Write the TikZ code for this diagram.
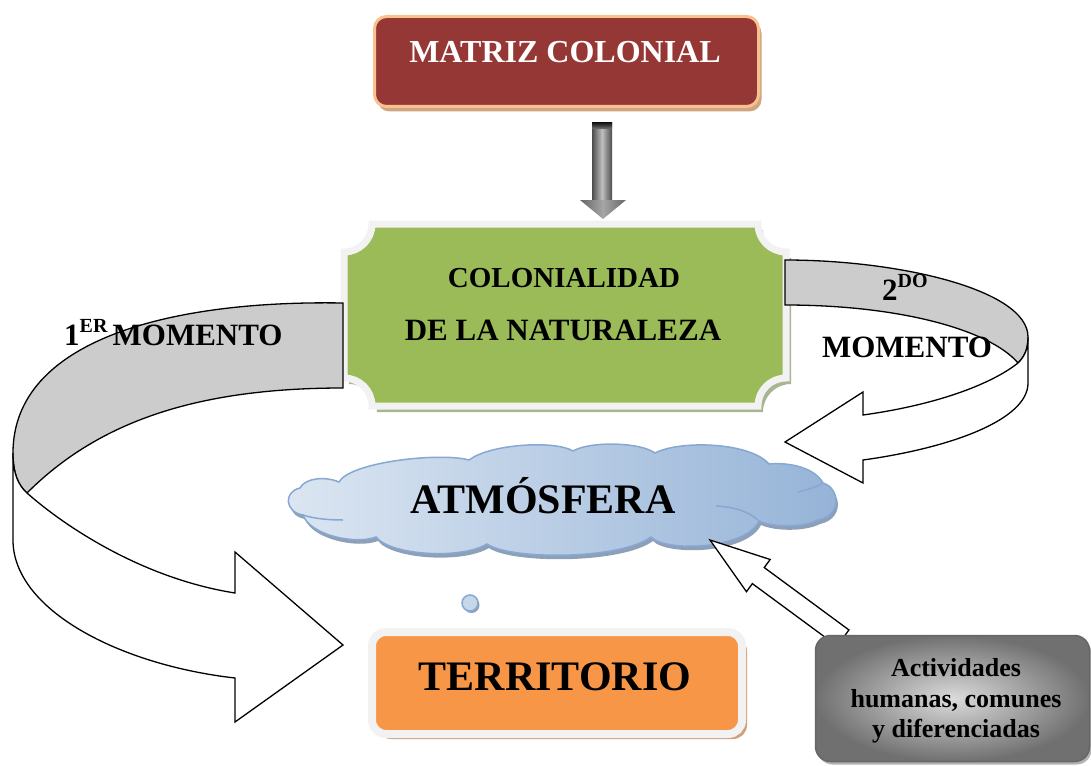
\documentclass[tikz,border=0pt]{standalone}
\usepackage{fontspec}
\setmainfont{Liberation Serif}
\usetikzlibrary{
  shadows,        % Key "drop shadow"
  calc,           % Calculations $...$
  positioning,
}
\definecolor{matrizred}{HTML}{953735}
\definecolor{matrizrim}{HTML}{FAC090}
\definecolor{matrizshadow}{HTML}{CFA582}
\definecolor{natgreen}{HTML}{9BBB59}
\definecolor{natshadow}{HTML}{A9B592}
\definecolor{paleborder}{HTML}{F2F2F2}
\definecolor{skylight}{HTML}{DCE6F2}
\definecolor{skydark}{HTML}{95B3D7}
\definecolor{skyrim}{HTML}{86A8D3}
\definecolor{skyshadow}{HTML}{8E9FB8}
\definecolor{terrorange}{HTML}{F79646}
\definecolor{terrshadow}{HTML}{D2A07A}
\definecolor{ribbongray}{HTML}{CCCCCC}
\newcommand{\sups}[1]{\raisebox{13pt}{\fontsize{20}{20}\selectfont #1}}
% Outline of the cloud
\newcommand{\cloudpath}{(300,488) .. controls (305,478) and (325,476) .. (339,482)
  .. controls (350,462) and (440,452) .. (469,460)
  .. controls (490,444) and (555,440) .. (573,451)
  .. controls (590,441) and (640,442) .. (655,453)
  .. controls (680,440) and (750,442) .. (769,464)
  .. controls (790,462) and (815,468) .. (823,483)
  .. controls (840,488) and (842,515) .. (818,520)
  .. controls (805,527) and (775,528) .. (759,521)
  .. controls (745,550) and (665,552) .. (651,537)
  .. controls (620,560) and (510,560) .. (487,544)
  .. controls (460,560) and (390,555) .. (376,537)
  .. controls (355,545) and (310,535) .. (303,515)
  .. controls (285,512) and (283,492) .. (300,488) -- cycle}
% Outline of the plaque
\newcommand{\plaquepath}{(372,224) -- (758,224) .. controls (758,239.5) and (770.5,252) .. (786,252)
  -- (786,378) .. controls (770.5,378) and (758,390.5) .. (758,406)
  -- (372,406) .. controls (372,390.5) and (359.5,378) .. (344,378)
  -- (344,252) .. controls (359.5,252) and (372,239.5) .. (372,224) -- cycle}
\tikzset{
  semithick,
  title text/.style={
    text=white,
    font=\bfseries\fontsize{32}{38}\selectfont
  },
  plaque text/.style={
    font=\bfseries\fontsize{#1}{#1}\selectfont
  },
  big text/.style={
    font=\bfseries\fontsize{42}{50}\selectfont
  },
  moment text/.style={
    font=\bfseries\fontsize{31}{37}\selectfont
  },
  note text/.style={
    font=\bfseries\fontsize{26}{30.5}\selectfont,
    align=center
  },
  matriz box/.style={
    rectangle,
    rounded corners=12pt,
    minimum width=384pt,
    minimum height=90pt,
    fill=matrizred,
    draw=matrizrim,
    line width=3pt,
    drop shadow={shadow xshift=3pt,shadow yshift=-5pt,fill=matrizshadow,opacity=1}
  },
  terr box/.style={
    rectangle,
    rounded corners=14pt,
    minimum width=370pt,
    minimum height=102pt,
    fill=terrorange,
    draw=paleborder,
    line width=8pt,
    drop shadow={shadow xshift=5pt,shadow yshift=-5pt,fill=terrshadow,opacity=1}
  },
  note box/.style={
    rectangle,
    rounded corners=15pt,
    minimum width=274pt,
    minimum height=126pt,
    inner color=black!14,
    outer color=black!56,
    draw=black!60,
    line width=1.5pt,
    drop shadow={shadow xshift=2pt,shadow yshift=-3pt,fill=black!30,opacity=1}
  },
  sky/.style={
    left color=skylight,
    right color=skydark,
    draw=skyrim,
    line width=1.5pt
  },
  sky inner/.style={
    draw=skyrim,
    line width=1.5pt
  },
  bubble/.style={
    circle,
    minimum size=16pt,
    inner sep=0pt,
    fill=skylight!70!skydark,
    draw=skyrim,
    line width=1.5pt,
    drop shadow={shadow xshift=1.5pt,shadow yshift=-2pt,fill=skyshadow,opacity=1}
  },
  ribbon back/.style={
    fill=ribbongray,
    draw=black,
    line width=1.3pt
  },
  ribbon front/.style={
    fill=white,
    draw=black,
    line width=1.3pt
  },
  hollow arrow/.style={
    fill=white,
    draw=black,
    line width=1.3pt,
    line join=miter
  }
}

\begin{document}
\begin{tikzpicture}[x=1pt,y=-1pt]
\useasboundingbox (0,0) rectangle (1091,765);
% Top box
\node[matriz box] (matriz) at (566.5,61.5) {};
\node[title text,anchor=base] (matriztext) at (565,63) {MATRIZ COLONIAL};
% Shaded arrow down
\shade[left color=black!70,right color=black!70,middle color=black!25] (592,122) rectangle (612,200);
\shade[top color=black!95,bottom color=black!60] (592,122) rectangle (612,128);
\shade[left color=black!60,right color=black!60,middle color=black!35] (580,200) -- (626,200) -- (603,219) -- cycle;
% Plaque
\fill[natshadow,xshift=5pt,yshift=-6pt] \plaquepath;
\draw[fill=natgreen,draw=paleborder,line width=7pt] \plaquepath;
\node[plaque text=29,anchor=base] (colon1) at (564,287) {COLONIALIDAD};
\node[plaque text=31,anchor=base] (colon2) at (563,340) {DE LA NATURALEZA};
% Left ribbon
\draw[ribbon back] (343,303) .. controls (170,300) and (13,340) .. (13,453) .. controls (13,473) and (18,485) .. (27,493) .. controls (100,420) and (200,388) .. (343,388) -- cycle;
\draw[ribbon front] (13,453) .. controls (13,473) and (18,485) .. (27,493) .. controls (62,524) and (140,578) .. (235,593) -- (235,552) -- (343,645) -- (235,722) -- (235,678) .. controls (120,665) and (13,610) .. (13,540) -- cycle;
% Right ribbon
\draw[ribbon back] (785,260) .. controls (900,260) and (1028,290) .. (1028,337) .. controls (1028,350) and (1024,357) .. (1018,363) .. controls (990,330) and (900,305) .. (785,305) -- cycle;
\draw[ribbon front] (1028,337) .. controls (1028,350) and (1024,357) .. (1018,363) .. controls (990,385) and (935,405) .. (863,415) -- (863,392) -- (785,442) -- (863,483) -- (863,460) .. controls (950,448) and (1028,420) .. (1028,383) -- cycle;
% Cloud
\fill[skyshadow,xshift=2pt,yshift=-4pt] \cloudpath;
\shade[sky] \cloudpath;
\draw[sky inner] (303,515) .. controls (315,519) and (330,520) .. (343,520);
\draw[sky inner] (759,521) .. controls (750,512) and (735,507) .. (716,506);
\draw[sky inner] (823,483) .. controls (815,488) and (805,490) .. (798,492);
\node[big text,anchor=base] (atmtext) at (543,513) {ATMÓSFERA};
\node[bubble] (bubble) at (470,603) {};
% Bottom box
\node[terr box] (terr) at (557,683) {};
\node[big text,anchor=base] (terrtext) at (555,690) {TERRITORIO};
% Hollow arrow up to the cloud
\coordinate (tip) at (710,540);
\coordinate (tail) at (843,638);
\coordinate (hb) at ($(tip)!60pt!(tail)$);
\draw[hollow arrow] (tip) -- ($(hb)!20pt!90:(tail)$) -- ($(hb)!10pt!90:(tail)$) -- ($(tail)!10pt!-90:(tip)$) -- ($(tail)!10pt!90:(tip)$) -- ($(hb)!10pt!-90:(tail)$) -- ($(hb)!20pt!-90:(tail)$) -- cycle;
% Note box
\node[note box] (act) at (952.5,698.5) {};
\node[note text] (acttext) at (956,701) {Actividades\\humanas, comunes\\y diferenciadas};
% Labels
\node[moment text,anchor=base west,inner sep=0pt] (mom1) at (64,345) {1\sups{ER}\,MOMENTO};
\node[moment text,anchor=base west,inner sep=0pt] (mom2a) at (882,300) {2\sups{DO}};
\node[moment text,anchor=base] (mom2b) at (907,357) {MOMENTO};
\end{tikzpicture}
\end{document}
